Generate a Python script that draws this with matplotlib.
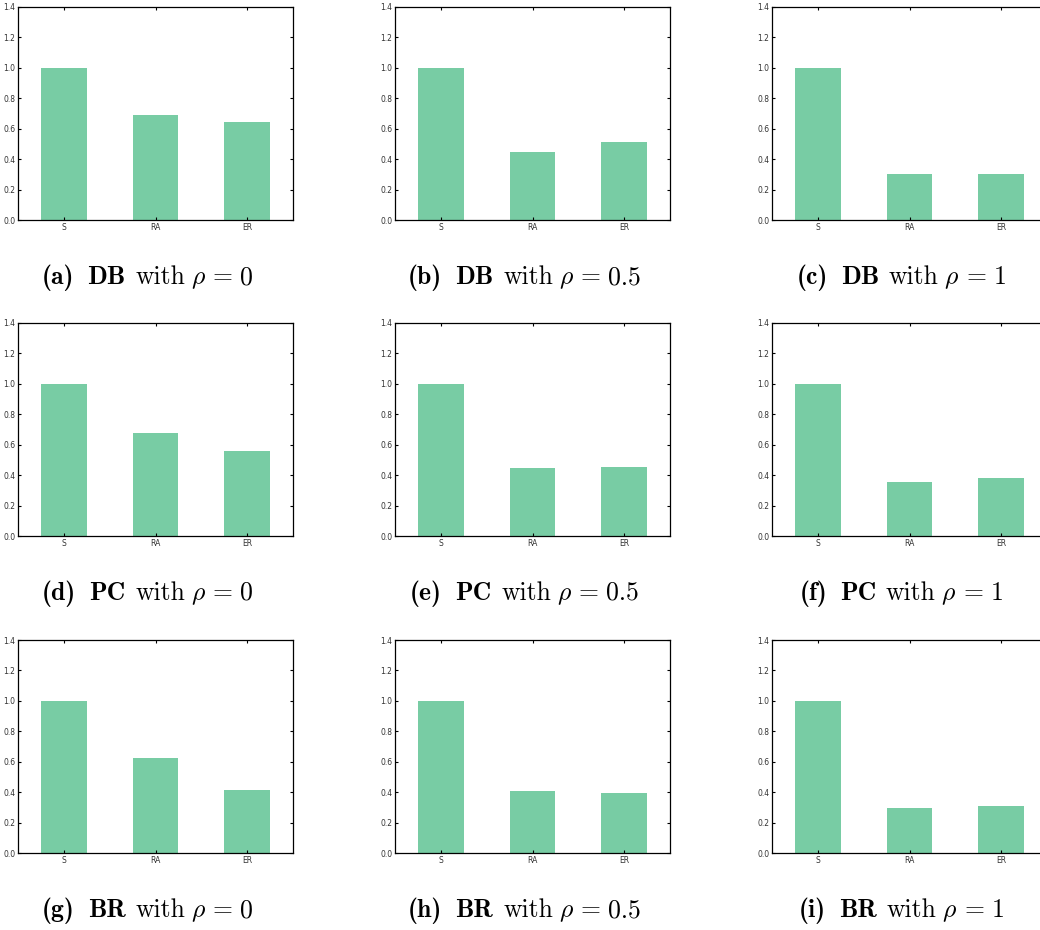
import os
import matplotlib
matplotlib.use("Agg")
import matplotlib.pyplot as plt
from matplotlib.font_manager import FontProperties
import numpy as np

plt.rcParams["mathtext.fontset"] = "cm"

CATEGORIES = ["S", "RA", "ER"]
MODELS = ["DB", "PC", "BR"]
RHOS = ["0", "0.5", "1"]
LETTERS = ["a", "b", "c", "d", "e", "f", "g", "h", "i"]

# normalised values per panel, rows = model, cols = rho
DB_VALUES = [[1.0, 0.689, 0.643], [1.0, 0.446, 0.512], [1.0, 0.302, 0.302]]
PC_VALUES = [[1.0, 0.674, 0.561], [1.0, 0.449, 0.456], [1.0, 0.357, 0.383]]
BR_VALUES = [[1.0, 0.623, 0.412], [1.0, 0.405, 0.392], [1.0, 0.293, 0.306]]
ALL_VALUES = [DB_VALUES, PC_VALUES, BR_VALUES]

BAR_COLOR = "#78cca4"

# Computer Modern fonts shipped with matplotlib
TTF_DIR = os.path.join(matplotlib.get_data_path(), "fonts", "ttf")
CAP_SIZE = 18.5
FP_BOLD = FontProperties(fname=os.path.join(TTF_DIR, "cmb10.ttf"), size=CAP_SIZE)
FP_ROMAN = FontProperties(fname=os.path.join(TTF_DIR, "cmr10.ttf"), size=CAP_SIZE)

W, H = 1040, 930
fig = plt.figure(figsize=(W / 100, H / 100), dpi=100)
renderer = fig.canvas.get_renderer()
EM = CAP_SIZE * 100 / 72  # em in pixels


def caption(cx, cy, parts):
    """Lay out text pieces on one baseline, centred at cx (pixels)."""
    texts, gaps = [], []
    for s, fp, gap in parts:
        if fp is None:
            t = fig.text(0, cy / H, s, fontsize=CAP_SIZE, va="baseline")
        else:
            t = fig.text(0, cy / H, s, fontproperties=fp, va="baseline")
        texts.append(t)
        gaps.append(gap * EM)
    widths = [t.get_window_extent(renderer).width for t in texts]
    total = sum(widths) + sum(gaps[:-1])
    xpos = cx - total / 2
    for t, w, g in zip(texts, widths, gaps):
        t.set_x(xpos / W)
        xpos += w + g


col_left = [18, 395, 772]
row_top = [7, 323, 640]
ax_w, ax_h = 275, 213
cap_base = [284, 600, 917]  # baseline, pixels from top

x = np.arange(len(CATEGORIES))
for r in range(3):
    for c in range(3):
        left = col_left[c] / W
        bottom = 1 - (row_top[r] + ax_h) / H
        ax = fig.add_axes([left, bottom, ax_w / W, ax_h / H])
        ax.bar(x, ALL_VALUES[r][c], width=0.5, color=BAR_COLOR, edgecolor="none")
        ax.set_xlim(-0.5, 2.5)
        ax.set_ylim(0, 1.4)
        ax.set_yticks(np.arange(0, 1.41, 0.2))
        ax.set_xticks(x)
        ax.set_xticklabels(CATEGORIES)
        ax.tick_params(direction="in", length=2.5, width=0.8, labelsize=5.5,
                       top=True, right=True, pad=2, colors="black",
                       labelcolor="#333333")
        for sp in ax.spines.values():
            sp.set_linewidth(0.9)

        k = r * 3 + c
        caption(col_left[c] + ax_w / 2 - 8, H - cap_base[r], [
            ("(" + LETTERS[k] + ")", FP_BOLD, 0.5),
            (MODELS[r], FP_BOLD, 0.38),
            ("with", FP_ROMAN, 0.22),
            (r"$\rho$", None, 0.28),
            ("=", FP_ROMAN, 0.28),
            (RHOS[c], FP_ROMAN, 0),
        ])

fig.savefig("out.png", dpi=100)
